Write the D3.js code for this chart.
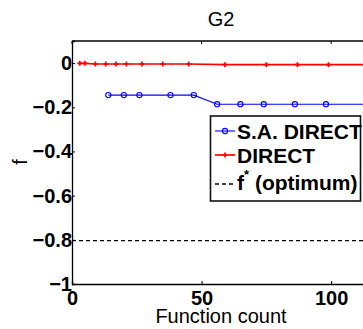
<!DOCTYPE html>
<html>
<head>
<meta charset="utf-8">
<script src="https://cdn.jsdelivr.net/npm/d3@7"></script>
<style>
  html, body { margin: 0; padding: 0; background: #fff; overflow: hidden; }
  svg { display: block; font-family: "Liberation Sans", Arial, Helvetica, sans-serif; }
</style>
</head>
<body>
<svg id="chart" width="363" height="329"></svg>
<script>
// Function-count history for problem G2
const directCounts = [3, 5, 9, 13, 17, 21, 27, 35, 45, 59, 75, 87, 99, 114];
const directValues = [-0.001, -0.001, -0.004, -0.004, -0.004, -0.004, -0.004, -0.004, -0.004, -0.007, -0.007, -0.007, -0.007, -0.007];
const saCounts = [14, 20, 26, 38, 47, 56, 65, 74, 86, 98, 114];
const saValues = [-0.145, -0.145, -0.145, -0.145, -0.145, -0.186, -0.186, -0.186, -0.186, -0.186, -0.186];
const optimum = -0.8036;

const xTicks = [0, 50, 100];
const xTickLabels = ["0", "50", "100"];
const yTicks = [0, -0.2, -0.4, -0.6, -0.8, -1];
const yTickLabels = ["0", "\u22120.2", "\u22120.4", "\u22120.6", "\u22120.8", "\u22121"];
const legendLabels = ["S.A. DIRECT", "DIRECT", "f"];

const svg = d3.select("#chart");
const plotLeft = 72, plotRight = 370, plotTop = 41, plotBottom = 284;

const x = d3.scaleLinear().domain([0, 115]).range([plotLeft, plotRight]);
const y = d3.scaleLinear().domain([-1, 0.1]).range([plotBottom, plotTop]);

const blue = "#0000ff", red = "#ff0000";
const tickLen = 3;
const fontStack = "\"Liberation Sans\", Arial, sans-serif";

// Frame: top border, left and bottom axes
svg.append("line").attr("x1", plotLeft).attr("x2", plotRight).attr("y1", plotTop).attr("y2", plotTop)
  .attr("stroke", "#000").attr("stroke-width", 1.3);

const xAxis = d3.axisBottom(x).tickValues(xTicks).tickSize(-tickLen).tickPadding(7)
  .tickFormat((d, i) => xTickLabels[i]);
const gx = svg.append("g").attr("transform", `translate(0,${plotBottom})`).call(xAxis);
gx.select(".domain").attr("stroke-width", 1.3);
gx.selectAll("text").attr("font-size", 20).attr("font-weight", "bold").attr("fill", "#000")
  .attr("font-family", fontStack);

// top-edge ticks pointing inward
svg.append("g").selectAll("line").data(xTicks).join("line")
  .attr("x1", d => x(d)).attr("x2", d => x(d))
  .attr("y1", plotTop).attr("y2", plotTop + tickLen)
  .attr("stroke", "#000").attr("stroke-width", 1);

const yAxis = d3.axisLeft(y).tickValues(yTicks).tickSize(-tickLen).tickPadding(0)
  .tickFormat((d, i) => yTickLabels[i]);
const gy = svg.append("g").attr("transform", `translate(${plotLeft},0)`).call(yAxis);
gy.select(".domain").attr("stroke-width", 1.3);
gy.selectAll("text").attr("font-size", 20).attr("font-weight", "bold").attr("fill", "#000")
  .attr("font-family", fontStack);

// Optimum reference line
svg.append("line")
  .attr("x1", x(0)).attr("x2", plotRight)
  .attr("y1", y(optimum)).attr("y2", y(optimum))
  .attr("stroke", "#000").attr("stroke-width", 1.3).attr("stroke-dasharray", "4,3");

// DIRECT series
const directPts = directCounts.map((c, i) => [c, directValues[i]]);
const line = d3.line().x(d => x(d[0])).y(d => y(d[1]));
svg.append("path").datum(directPts).attr("d", line)
  .attr("fill", "none").attr("stroke", red).attr("stroke-width", 1.7);
const plus = d3.symbol().type(d3.symbolCross).size(14);
svg.append("g").selectAll("path").data(directPts).join("path")
  .attr("transform", d => `translate(${x(d[0])},${y(d[1])})`)
  .attr("d", plus).attr("fill", red);

// S.A. DIRECT series
const saPts = saCounts.map((c, i) => [c, saValues[i]]);
svg.append("path").datum(saPts).attr("d", line)
  .attr("fill", "none").attr("stroke", blue).attr("stroke-width", 1.1);
svg.append("g").selectAll("circle").data(saPts).join("circle")
  .attr("cx", d => x(d[0])).attr("cy", d => y(d[1])).attr("r", 2.6)
  .attr("fill", "none").attr("stroke", blue).attr("stroke-width", 1.1);

// Titles
svg.append("text").attr("x", 221).attr("y", 26).attr("text-anchor", "middle")
  .attr("font-size", 20).text("G2");
svg.append("text").attr("x", 221).attr("y", 323).attr("text-anchor", "middle")
  .attr("font-size", 20).text("Function count");
svg.append("text").attr("transform", "translate(27,162) rotate(-90)")
  .attr("text-anchor", "middle").attr("font-size", 20).text("f");

// Legend
const lg = svg.append("g");
lg.append("rect").attr("x", 210.5).attr("y", 116).attr("width", 150).attr("height", 85)
  .attr("fill", "#fff").attr("stroke", "#111").attr("stroke-width", 1.6);
const rowY = [131, 155, 184];
// S.A. DIRECT entry
lg.append("line").attr("x1", 215).attr("x2", 235).attr("y1", rowY[0]).attr("y2", rowY[0])
  .attr("stroke", blue).attr("stroke-width", 1.1);
lg.append("circle").attr("cx", 225).attr("cy", rowY[0]).attr("r", 2.6)
  .attr("fill", "none").attr("stroke", blue).attr("stroke-width", 1.1);
// DIRECT entry
lg.append("line").attr("x1", 215).attr("x2", 235).attr("y1", rowY[1]).attr("y2", rowY[1])
  .attr("stroke", red).attr("stroke-width", 1.7);
lg.append("path").attr("transform", `translate(225,${rowY[1]})`).attr("d", plus).attr("fill", red);
// optimum entry
lg.append("line").attr("x1", 215).attr("x2", 235).attr("y1", rowY[2]).attr("y2", rowY[2])
  .attr("stroke", "#000").attr("stroke-width", 1.3).attr("stroke-dasharray", "4,3");

lg.selectAll("text.lab").data(legendLabels.slice(0, 2)).join("text").attr("class", "lab")
  .attr("x", 237).attr("y", (d, i) => rowY[i] + 7.5)
  .attr("font-size", 21).attr("font-weight", "bold").text(d => d);
const t3 = lg.append("text").attr("x", 237).attr("y", 190)
  .attr("font-size", 21).attr("font-weight", "bold");
t3.append("tspan").text(legendLabels[2]);
t3.append("tspan").attr("font-size", 13).attr("dy", -11).text("*");
t3.append("tspan").attr("dy", 11).text(" (optimum)");
</script>
</body>
</html>
